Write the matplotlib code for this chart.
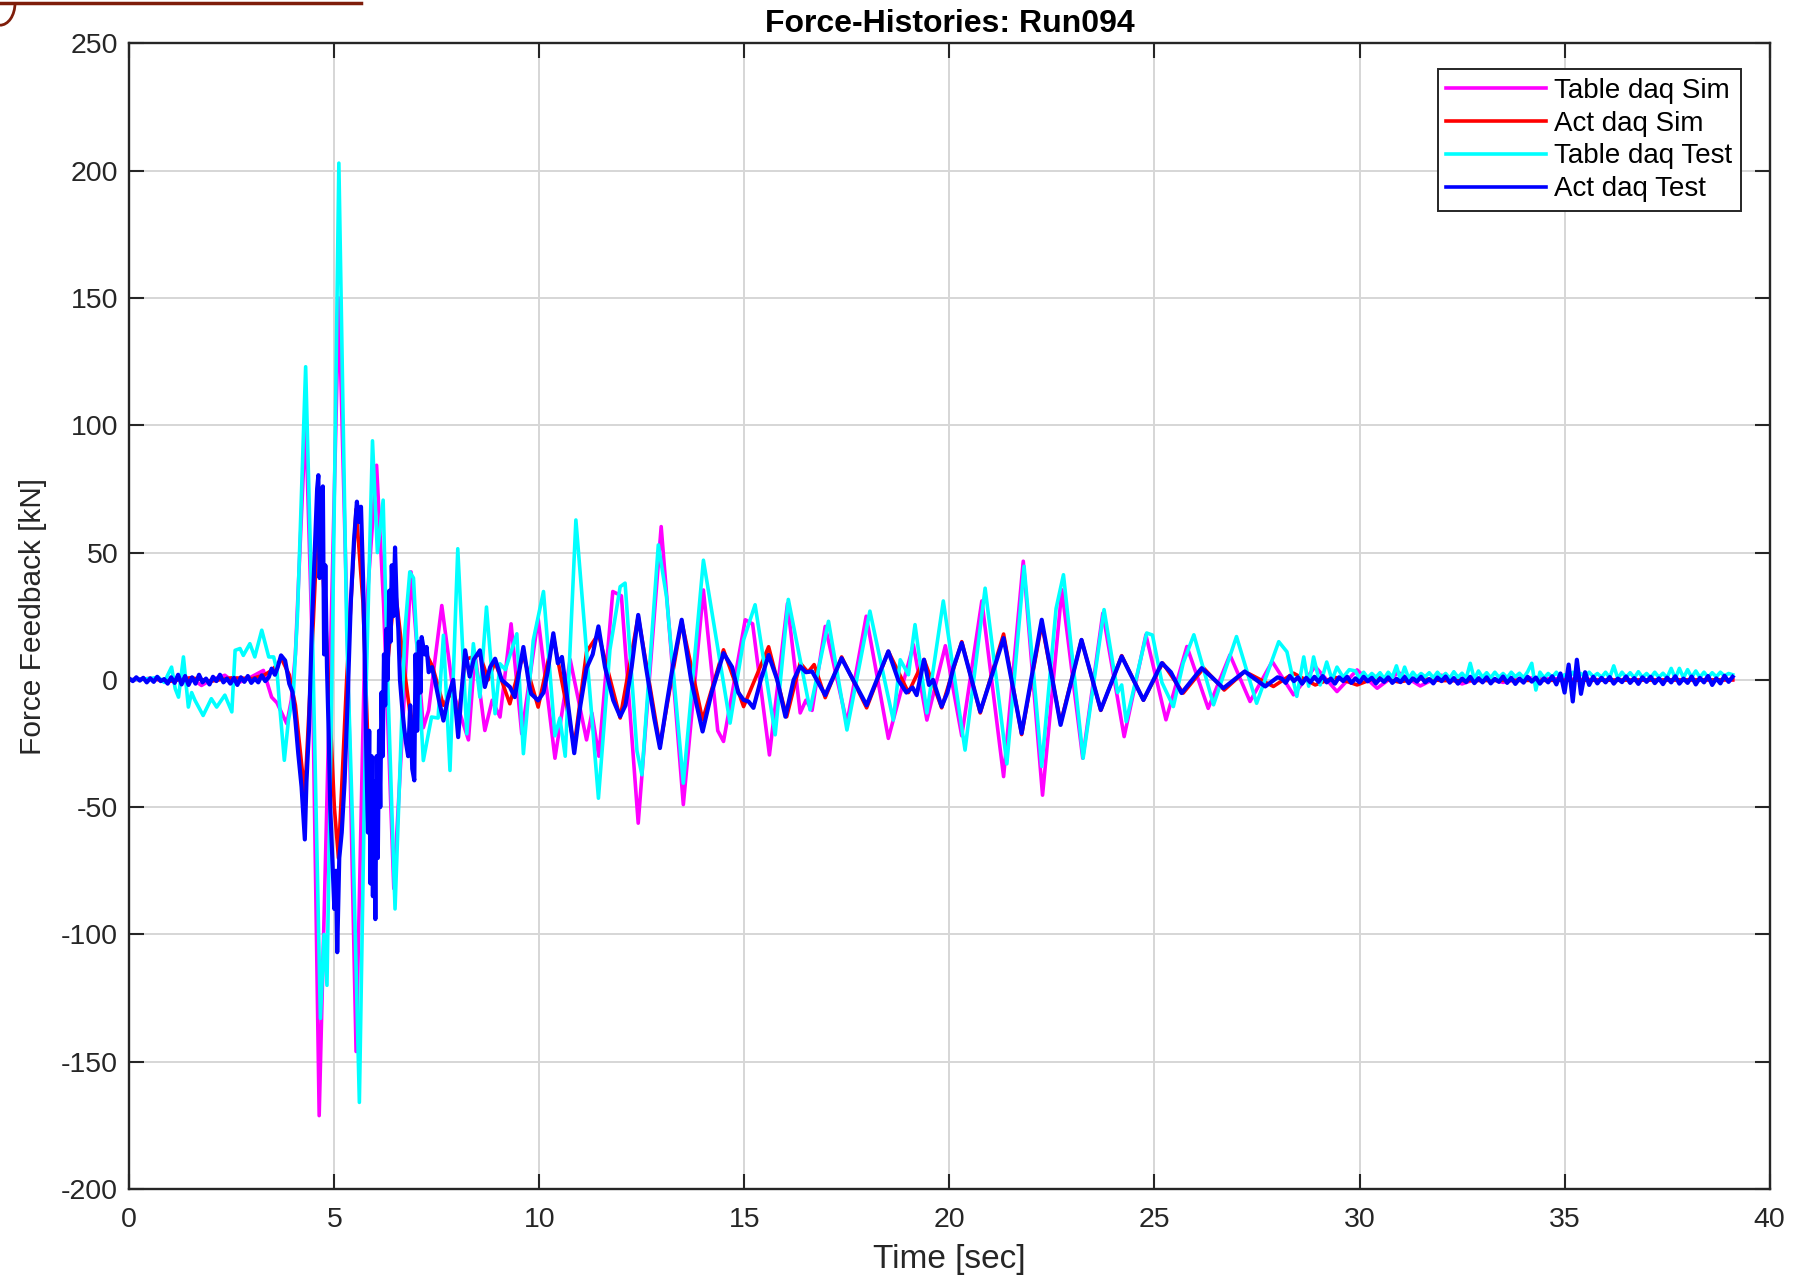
import numpy as np
import matplotlib
matplotlib.use("Agg")
import matplotlib.pyplot as plt
from matplotlib.lines import Line2D
from matplotlib.patches import Arc

plt.rcParams['font.family'] = ['Liberation Sans', 'DejaVu Sans']
plt.rcParams['axes.unicode_minus'] = False

# values: (time [s], force [kN]) turning points
tbl_sim_pts = [
    (0.0, 0), (0.5, 0.5), (1.0, -0.5), (1.5, 0.8), (1.76, -2.2), (2.0, 0), (2.33, 1.8),
    (2.6, -1.5), (2.9, 0.5), (3.27, 3.7), (3.47, -6.8), (3.6, -9), (3.84, -17.2), (3.95, -8),
    (4.05, 10), (4.30, 102.6), (4.45, 20), (4.63, -171.2), (4.8, -60), (4.95, 40), (5.11, 150),
    (5.3, 30), (5.53, -146), (5.75, 20), (6.03, 84.3), (6.2, 30), (6.45, -82), (6.87, 42.4),
    (7.17, -18.8), (7.3, -12), (7.62, 29.2), (7.9, -5), (8.27, -23.6), (8.43, 10.3), (8.67, -19.9),
    (8.85, -8), (9.04, -14.6), (9.31, 22), (9.57, -21.2), (9.97, 24), (10.38, -30.8), (10.75, 8),
    (11.15, -23.6), (11.28, -13), (11.45, -30), (11.79, 34.7), (12.0, 33), (12.41, -56.3),
    (12.97, 60.2), (13.51, -49), (14.0, 35.3), (14.35, -20), (14.49, -24.2), (15.02, 23.6),
    (15.2, 22), (15.61, -29.5), (16.05, 30), (16.36, -13), (16.5, -8), (16.65, -12), (16.97, 21),
    (17.5, -17), (17.97, 25), (18.51, -23), (19.12, 13.8), (19.45, -15.8), (19.9, 13.4),
    (20.3, -22), (20.79, 31), (21.32, -38), (21.8, 46.6), (22.27, -45.3), (22.74, 35.4),
    (23.25, -30.8), (23.74, 26.2), (24.26, -22.3), (24.79, 17.7), (25.28, -15.7), (25.79, 13.1),
    (26.31, -11.2), (26.84, 9.8), (27.33, -8.5), (27.87, 7.2), (28.39, -5.9), (28.92, 5.2),
    (29.45, -4.6), (29.94, 3.9), (30.43, -3.3), (30.95, 2.9), (31.48, -2.4), (32.0, 1.8),
    (32.5, -1.6), (33.0, 1.2), (33.5, -1), (34.0, 0.8), (35.0, 0.3), (36.0, 0), (39.1, 0),
]

act_sim_pts = [
    (0, 0), (0.5, 0.5), (1.0, -0.5), (1.5, 0.8), (2.0, -0.5), (2.5, 0.8), (3.0, 0.5), (3.3, 2),
    (3.5, 4), (3.71, 8.3), (3.9, 2), (4.05, -10), (4.28, -45), (4.45, 10), (4.62, 70), (4.8, 20),
    (5.0, -50), (5.1, -70), (5.3, 0), (5.53, 67), (5.7, 30), (5.85, -40), (6.0, -60), (6.2, -10),
    (6.48, 36.5), (6.7, 5), (6.9, -20), (7.13, 14), (7.4, 5), (7.66, -10), (7.85, -5), (8.02, -15),
    (8.2, 8), (8.55, 10), (8.75, 0), (8.92, 7), (9.28, -9.4), (9.6, 10), (9.97, -10.7),
    (10.34, 17), (10.85, -26), (11.15, 11), (11.44, 18), (11.97, -15), (12.41, 25), (12.94, -26),
    (13.47, 23), (13.98, -15.7), (14.49, 11.8), (14.98, -10.5), (15.59, 13), (16.03, -14.5),
    (16.36, 6.6), (16.55, 3), (16.7, 6), (16.97, -7), (17.37, 9), (17.98, -11), (18.51, 11.2),
    (19.0, -5), (19.38, 8), (19.81, -11), (20.3, 15), (20.75, -13), (21.32, 18), (21.76, -21.5),
    (22.25, 22), (22.71, -17), (23.22, 15.7), (23.69, -12), (24.2, 9.5), (24.73, -8), (25.2, 6.6),
    (25.7, -5.2), (26.2, 4.6), (26.7, -4), (27.2, 3.3), (27.9, -2.6), (28.39, 2.6), (28.92, -2),
    (29.4, 1), (29.94, -2), (30.43, 1), (30.95, -0.8), (31.5, 0.5), (32.0, -0.3), (39.1, 0),
]

tbl_test_pts = [
    (0.0, 0), (0.5, 0.5), (0.71, 1), (0.85, -1), (1.03, 5), (1.12, -3.5), (1.2, -6.8), (1.32, 9),
    (1.44, -10.7), (1.52, -5), (1.6, -8), (1.8, -14), (2.0, -7.4), (2.13, -10.7), (2.33, -6),
    (2.5, -12.6), (2.58, 11.6), (2.7, 12.3), (2.78, 9.6), (2.94, 14.2), (3.06, 9), (3.23, 19.5),
    (3.4, 9), (3.52, 9), (3.6, 3.7), (3.65, -7), (3.78, -31.6), (3.88, -15.9), (4.0, -5.4),
    (4.1, 25), (4.30, 123), (4.45, 30), (4.66, -133), (4.75, -100), (4.82, -120), (4.95, 10),
    (5.11, 203), (5.3, 20), (5.45, -60), (5.61, -166), (5.78, 0), (5.93, 93.9), (6.05, 50),
    (6.19, 70.6), (6.3, 0), (6.48, -90), (6.72, 19.4), (6.84, 42.4), (6.93, 40), (7.05, 2.6),
    (7.17, -31.7), (7.37, -14.6), (7.53, -15), (7.66, 17.5), (7.82, -35.6), (8.01, 51.5),
    (8.15, 5), (8.23, -21.2), (8.39, 14.2), (8.55, -6.8), (8.71, 28.6), (8.92, -13.3), (9.04, 6.3),
    (9.17, 4), (9.45, 18.1), (9.61, -29), (9.85, 15.5), (10.1, 34.7), (10.38, -22), (10.5, -15),
    (10.63, -30), (10.89, 62.8), (11.44, -46.5), (11.72, 11.8), (11.97, 36.6), (12.09, 38),
    (12.38, -28), (12.5, -37.3), (12.9, 53), (13.1, 32.7), (13.51, -40.6), (14.0, 47),
    (14.65, -17), (14.98, 15.7), (15.26, 29.5), (15.75, -21.6), (16.07, 31.6), (16.6, -11.8),
    (17.05, 23), (17.5, -19.7), (18.06, 27), (18.47, -4), (18.63, -15.8), (18.8, 7.9), (19.0, 2),
    (19.16, 21.7), (19.45, -13), (19.85, 31), (20.38, -27.6), (20.87, 36), (21.4, -33),
    (21.82, 44.6), (22.25, -34), (22.6, 28), (22.78, 41.3), (23.26, -30.8), (23.77, 27.6),
    (24.1, -5), (24.2, -2), (24.31, -16.4), (24.81, 18.4), (24.95, 17.6), (25.18, -1),
    (25.46, -10.5), (25.7, 6.6), (25.96, 17.7), (26.44, -9.8), (27.0, 17), (27.49, -9.2),
    (28.03, 15), (28.23, 11), (28.47, -6.5), (28.64, 9), (28.76, -2.5), (28.88, 9), (29.04, -2),
    (29.2, 7), (29.33, 0), (29.45, 5), (29.6, 1), (29.75, 4),
]
# small ripple after 29.9 s, one value every 0.1 s
tbl_test_tail = [
    3.5, 0.5, 3, 0.8, 2.5, 1, 2.8, 0.5, 3, 1, 5.5, 0, 5, 0.5, 3, 1, 2.5, 1.2, 2.8, 0.8,
    3, 1, 2.5, 0.6, 3.2, 1, 2.6, 0.5, 6.5, 0.2, 3.5, 1, 2.8, 0.8, 3, 1, 2.5, 0.8, 3, 1.2,
    2.6, 0.8, 3.2, 6.5, -4, 3, 0.8, 2.5, 1, 3, 0.5, 2, 0.5, 3, 1, 2.5, 1, 3, 1.2, 2.5,
    1, 3, 0.8, 5.5, 0.5, 3, 1, 2.8, 0.8, 3.2, 1, 2.5, 0.8, 3, 1, 2.6, 0.8, 4.5, 0.5, 4.5,
    0.8, 4, 1, 3.5, 1, 3, 1, 2.8, 1.2, 3, 1.5, 2.5, 2,
]

# actuator test signal: noisy start, main part, noisy tail (0.1 s steps)
act_test_head = [
    0.5, -0.5, 1, -0.3, 0.8, -1, 0.6, -0.8, 1.2, -0.5, 0.3, -1.5, 1, -1.2, 2, -1.8, 1.5, -2,
    1, -1.5, 2, -1, 0.5, -1.8, 1.2, -0.5, 2, -1, 0.5, -1.5, 0.8, -2, 1, -0.8, 1.5, -1.2,
    0.5, -1, 1.8, -0.5, 1,
]
act_test_pts = [
    (3.47, 4.4), (3.55, 2), (3.62, 5), (3.7, 9.6), (3.8, 7.6), (3.9, -1.5), (3.98, -4.8),
    (4.05, -15.9), (4.12, -29), (4.2, -42), (4.25, -55), (4.28, -62.7), (4.32, -40), (4.38, -20),
    (4.45, 20), (4.52, 50), (4.58, 75), (4.61, 80.4), (4.64, 40), (4.68, 60), (4.72, 76),
    (4.75, 10), (4.78, 45), (4.82, 5), (4.86, -20), (4.9, -50), (4.95, -70), (5.0, -90),
    (5.04, -75), (5.07, -107), (5.12, -70), (5.18, -60), (5.25, -40), (5.32, -10), (5.4, 30),
    (5.48, 55), (5.55, 70), (5.6, 62), (5.65, 68), (5.7, 40), (5.74, 10), (5.78, -30),
    (5.82, -60), (5.85, -20), (5.88, -80), (5.91, -30), (5.94, -85), (5.97, -40), (6.0, -94),
    (6.03, -30), (6.06, -70), (6.09, -20), (6.12, -50), (6.15, -5), (6.18, -30), (6.21, 10),
    (6.24, -10), (6.27, 20), (6.3, 0), (6.34, 35), (6.37, 15), (6.4, 45), (6.44, 25), (6.48, 52),
    (6.52, 30), (6.56, 20), (6.6, 0), (6.65, -10), (6.7, -18.6), (6.75, -25), (6.8, -30),
    (6.85, -10), (6.9, -35), (6.95, -39.5), (6.98, 10), (7.02, -20), (7.06, 15), (7.1, -5),
    (7.13, 16.8), (7.2, 10), (7.25, 12.9), (7.3, 3), (7.38, 5), (7.45, 0), (7.55, -8),
    (7.66, -16), (7.78, -6.5), (7.9, 0), (8.02, -22.5), (8.1, -5), (8.19, 11.6), (8.3, 1.3),
    (8.4, 8), (8.55, 11.6), (8.67, -2.8), (8.8, 5), (8.92, 8.3), (9.08, 0), (9.28, -2.8),
    (9.4, -6.8), (9.61, 12.9), (9.75, -2), (9.8, -5.5), (9.97, -8.1), (10.1, -5), (10.2, 3),
    (10.34, 18.3), (10.45, 6.5), (10.55, 9), (10.7, -10), (10.85, -28.8), (11.0, -10),
    (11.15, 4.6), (11.3, 10), (11.44, 21), (11.6, 5), (11.8, -8), (11.97, -14.4), (12.1, -10),
    (12.25, 5), (12.41, 25.5), (12.6, 5), (12.8, -15), (12.94, -26.8), (13.1, -10), (13.25, 5),
    (13.47, 23.6), (13.7, 0), (13.98, -20.3), (14.2, -5), (14.49, 10.5), (14.7, 5), (14.85, -5),
    (14.98, -7.9), (15.1, -8.5), (15.22, -11), (15.4, 0), (15.59, 9.8), (15.8, 0), (16.0, -14.5),
    (16.2, 0), (16.36, 5.3), (16.5, 3), (16.65, 3.3), (16.97, -6), (17.37, 8.5), (17.98, -10),
    (18.51, 11.2), (18.75, 0), (18.95, -5), (19.1, -3), (19.2, -6), (19.38, 7.9), (19.5, -2),
    (19.6, 0), (19.81, -10.5), (19.95, -5), (20.1, 5), (20.3, 14.5), (20.75, -12.5), (21.0, 0),
    (21.32, 16.4), (21.76, -21), (22.25, 23.6), (22.71, -17.7), (23.22, 15.7), (23.69, -11.8),
    (24.2, 9.2), (24.73, -7.9), (25.18, 6.6), (25.4, 3), (25.66, -5.2), (26.15, 4.6), (26.4, 1),
    (26.68, -3.3), (27.2, 3.3), (27.7, -2.6), (28.0, 1),
]
act_test_tail = [
    0.5, -1.2, 1.5, -0.5, 1, -1.5, 0.8, -1, 1.2,
    -0.8, 1.5, -1, 0.5, -1.5, 1, -0.5, 1.2, -1.2, 0.6,
    -1, 1.2, -0.6, 0.8, -1.4, 0.5, -0.8, 1, -1.2, 0.4,
    -0.9, 1.1, -1.3, 0.6, -0.7, 1.2, -1, 0.3, -1.4, 0.9,
    -0.5, 1.3, -1.1, 0.7, -1.5, 0.5, -0.9, 1.2, -1.3, 0.6,
    -1, 1, -1.4, 0.4, -0.8, 1.3, -1.2, 0.8, -1.6, 0.5,
    -1.1, 1.2, -0.7, 0.9, -1.5, 0.6, -1, 1.4, -1.8, 2.5,
    -5, 6, -8.5, 7.9, -5.5, 3, -2, 1.2, -1.4, 0.8,
    -1, 1.1, -1.5, 0.5, -0.9, 1.3, -1.2, 0.7, -1.6, 1,
    -0.8, 1.2, -1.3, 0.6, -1.7, 0.9, -1, 1.4, -1.5, 0.5,
    -1.2, 1.3, -1.8, 0.8, -1, 1.5, -2, 0.6, -1.4, 1.6,
    -0.8, 1.2,
]

labels = ['Table daq Sim', 'Act daq Sim', 'Table daq Test', 'Act daq Test']
colors = ['#ff00ff', '#ff0000', '#00ffff', '#0000ff']
xticks = list(range(0, 41, 5))
yticks = list(range(-200, 251, 50))

# assemble series
t1, v1 = zip(*tbl_sim_pts)
t2, v2 = zip(*act_sim_pts)
t3, v3 = zip(*tbl_test_pts)
t3 = list(t3) + list(np.linspace(29.9, 39.1, len(tbl_test_tail)))
v3 = list(v3) + tbl_test_tail
t4m, v4m = zip(*act_test_pts)
t4 = list(np.linspace(0.0, 3.4, len(act_test_head))) + list(t4m) + list(np.linspace(28.1, 39.1, len(act_test_tail)))
v4 = act_test_head + list(v4m) + act_test_tail

fig = plt.figure(figsize=(17.96, 12.75), dpi=100)
ax = fig.add_axes([0.072, 0.0675, 0.9133, 0.8984])

ax.plot(t1, v1, color=colors[0], lw=2.6, label=labels[0])
ax.plot(t2, v2, color=colors[1], lw=2.6, label=labels[1])
ax.plot(t3, v3, color=colors[2], lw=2.6, label=labels[2])
ax.plot(t4, v4, color=colors[3], lw=3.0, label=labels[3])

ax.set_xlim(0, 40)
ax.set_ylim(-200, 250)
ax.set_xticks(xticks)
ax.set_yticks(yticks)
ax.grid(True, color='#d6d6d6', lw=1.4)
ax.set_axisbelow(True)
ax.tick_params(axis='both', direction='in', length=11, width=1.5, labelsize=20.5,
               top=True, right=True, colors='#262626')
ax.tick_params(axis='x', pad=13)
ax.tick_params(axis='y', pad=8)
for s in ax.spines.values():
    s.set_linewidth(1.7)
    s.set_color('#262626')

ax.set_title('Force-Histories: Run094', fontsize=23, fontweight='bold', pad=8)
ax.set_xlabel('Time [sec]', fontsize=24, labelpad=8, color='#262626')
ax.set_ylabel('Force Feedback [kN]', fontsize=21.5, labelpad=10, color='#262626')

leg = ax.legend(loc='upper right', bbox_to_anchor=(0.9825, 0.9775), borderaxespad=0,
                fontsize=20, handlelength=3.6, handletextpad=0.3, borderpad=0.3,
                labelspacing=0.25, fancybox=False, framealpha=1, edgecolor='#262626')
leg.get_frame().set_linewidth(1.4)
for h in leg.get_lines():
    h.set_linewidth(2.6)

# dark red mark at the top-left edge of the screenshot
fig.add_artist(Line2D([0.0, 0.201], [0.9975, 0.9975], color='#7f1d0a', lw=2.5))
fig.add_artist(Arc((0.0, 0.9975), 2 * 15 / 1796, 2 * 22 / 1275, theta1=270, theta2=360,
                   color='#7f1d0a', lw=2.0, transform=fig.transFigure))

fig.savefig('out.png', dpi=100)
